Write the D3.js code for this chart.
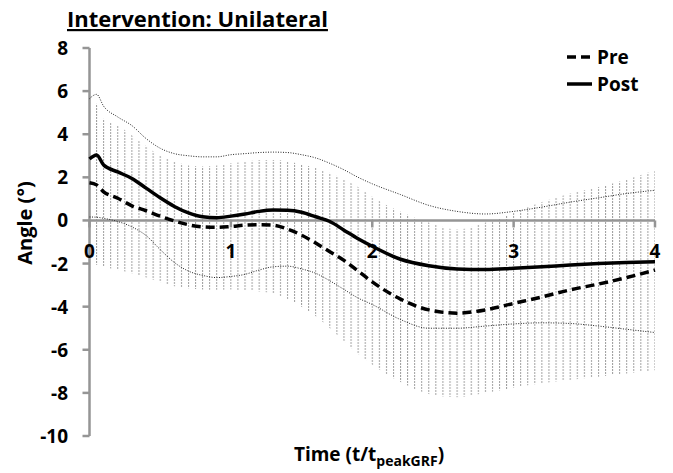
<!DOCTYPE html>
<html lang="en">
<head>
    <meta charset="UTF-8">
    <title>Intervention: Unilateral</title>
    <script src="https://cdn.jsdelivr.net/npm/d3@7"></script>
    <style>
        body {
            margin: 0;
            background-color: white;
        }
        svg text {
            font-family: "Open Sans", sans-serif;
            font-weight: bold;
            fill: black;
        }
        .axis-line {
            stroke: #959595;
            stroke-width: 2.5;
        }
    </style>
</head>
<body>
    <svg id="chart" width="673" height="473"></svg>

    <script>
        // time points (t / t_peakGRF)
        let time = [0, 0.05, 0.1, 0.2, 0.3, 0.4, 0.5, 0.6, 0.7, 0.8, 0.9, 1.0, 1.1, 1.2, 1.3, 1.4, 1.5, 1.6,
            1.7, 1.8, 1.9, 2.0, 2.2, 2.4, 2.6, 2.8, 3.0, 3.2, 3.4, 3.6, 3.8, 4.0]

        // Pre mean and +/- SD (hatched band)
        let pre = [1.75, 1.65, 1.33, 1.03, 0.68, 0.45, 0.2, -0.02, -0.2, -0.3, -0.32, -0.28, -0.22, -0.2, -0.22, -0.4,
            -0.68, -1.05, -1.45, -1.85, -2.35, -2.85, -3.65, -4.15, -4.3, -4.15, -3.85, -3.55, -3.22, -2.95, -2.65, -2.3]
        let preUpper = [5.6, 5.4, 4.7, 4.4, 3.95, 3.45, 3.0, 2.75, 2.55, 2.5, 2.55, 2.65, 2.72, 2.8, 2.8, 2.75,
            2.6, 2.45, 2.2, 1.9, 1.55, 1.1, 0.4, -0.1, -0.42, -0.1, 0.35, 0.85, 1.25, 1.55, 1.9, 2.33]
        let preLower = [-2.0, -2.05, -2.15, -2.3, -2.45, -2.65, -2.85, -3.05, -3.15, -3.2, -3.22, -3.2, -3.25, -3.3,
            -3.4, -3.65, -4.0, -4.45, -5.0, -5.6, -6.2, -6.7, -7.5, -8.05, -8.2, -8.0, -7.75, -7.55, -7.4, -7.25, -7.1, -6.95]

        // Post mean and +/- SD (dotted lines)
        let post = [2.85, 3.04, 2.57, 2.25, 1.95, 1.5, 1.05, 0.65, 0.35, 0.17, 0.13, 0.2, 0.3, 0.42, 0.48, 0.47,
            0.38, 0.17, -0.05, -0.45, -0.85, -1.2, -1.8, -2.1, -2.25, -2.28, -2.22, -2.15, -2.07, -2.0, -1.95, -1.92]
        let postUpper = [5.65, 5.85, 5.3, 4.8, 4.4, 3.8, 3.35, 3.1, 3.0, 2.95, 2.95, 3.05, 3.1, 3.15, 3.17, 3.15,
            3.05, 2.9, 2.65, 2.35, 2.0, 1.7, 1.2, 0.7, 0.42, 0.3, 0.42, 0.62, 0.85, 1.05, 1.25, 1.4]
        let postLower = [0.16, 0.15, 0.1, -0.05, -0.3, -0.7, -1.35, -1.95, -2.35, -2.55, -2.65, -2.6, -2.5, -2.3,
            -2.15, -2.12, -2.25, -2.45, -2.8, -3.2, -3.6, -3.9, -4.6, -5.0, -5.0, -4.9, -4.8, -4.75, -4.78, -4.9, -5.05, -5.2]

        let xTicks = [0, 1, 2, 3, 4]
        let yTicks = [8, 6, 4, 2, 0, -2, -4, -6, -8, -10]

        let svg = d3.select("#chart")

        let x = d3.scaleLinear().domain([0, 4]).range([89.5, 655])
        let y = d3.scaleLinear().domain([-10, 8]).range([436, 48])

        // hatch pattern: thin dashed vertical lines
        let step = x(0.05) - x(0)
        let pattern = svg.append("defs")
            .append("pattern")
            .attr("id", "hatch")
            .attr("patternUnits", "userSpaceOnUse")
            .attr("x", x(0) - 0.5)
            .attr("y", 0)
            .attr("width", step)
            .attr("height", 3)
        pattern.append("rect")
            .attr("x", 0)
            .attr("y", 0)
            .attr("width", 1)
            .attr("height", 2)
            .attr("fill", "#a0a0a0")

        let idx = d3.range(time.length)

        let band = d3.area()
            .x(i => x(time[i]))
            .y0(i => y(preLower[i]))
            .y1(i => y(preUpper[i]))
            .curve(d3.curveMonotoneX)

        svg.append("path")
            .datum(idx)
            .attr("d", band)
            .attr("fill", "url(#hatch)")

        // axes
        let yAxis = svg.append("g")
        yAxis.append("line")
            .attr("class", "axis-line")
            .attr("x1", x(0)).attr("x2", x(0))
            .attr("y1", y(8)).attr("y2", y(-10))
        yAxis.selectAll(".ytick")
            .data(yTicks)
            .enter()
            .append("line")
            .attr("class", "axis-line")
            .attr("x1", x(0) - 7).attr("x2", x(0))
            .attr("y1", d => y(d)).attr("y2", d => y(d))
        yAxis.selectAll(".ylab")
            .data(yTicks)
            .enter()
            .append("text")
            .attr("x", 68)
            .attr("y", d => y(d) + 7)
            .attr("text-anchor", "end")
            .attr("font-size", "19px")
            .text(d => d)

        let xAxis = svg.append("g")
        xAxis.append("line")
            .attr("class", "axis-line")
            .attr("x1", x(0)).attr("x2", x(4))
            .attr("y1", y(0)).attr("y2", y(0))
        xAxis.selectAll(".xtick")
            .data(xTicks)
            .enter()
            .append("line")
            .attr("class", "axis-line")
            .attr("x1", d => x(d)).attr("x2", d => x(d))
            .attr("y1", y(0)).attr("y2", y(0) + 7)
        xAxis.selectAll(".xlab")
            .data(xTicks)
            .enter()
            .append("text")
            .attr("x", d => x(d))
            .attr("y", y(0) + 38)
            .attr("text-anchor", "middle")
            .attr("font-size", "19px")
            .text(d => d)

        // Post SD dotted lines
        function makeLine(arr) {
            return d3.line()
                .x(i => x(time[i]))
                .y(i => y(arr[i]))
                .curve(d3.curveMonotoneX)
        }

        svg.append("path")
            .datum(idx)
            .attr("d", makeLine(postUpper))
            .attr("fill", "none")
            .attr("stroke", "#222")
            .attr("stroke-width", 1)
            .attr("stroke-dasharray", "1,1.5")
        svg.append("path")
            .datum(idx)
            .attr("d", makeLine(postLower))
            .attr("fill", "none")
            .attr("stroke", "#222")
            .attr("stroke-width", 1)
            .attr("stroke-dasharray", "1,1.5")

        // means
        svg.append("path")
            .datum(idx)
            .attr("d", makeLine(pre))
            .attr("fill", "none")
            .attr("stroke", "black")
            .attr("stroke-width", 3.5)
            .attr("stroke-dasharray", "9,5")
        svg.append("path")
            .datum(idx)
            .attr("d", makeLine(post))
            .attr("fill", "none")
            .attr("stroke", "black")
            .attr("stroke-width", 3.5)

        // legend
        let legend = svg.append("g")
        legend.append("line")
            .attr("x1", 567).attr("x2", 592)
            .attr("y1", 57).attr("y2", 57)
            .attr("stroke", "black").attr("stroke-width", 3.5)
            .attr("stroke-dasharray", "9,5")
        legend.append("text")
            .attr("x", 597).attr("y", 64)
            .attr("font-size", "19px")
            .text("Pre")
        legend.append("line")
            .attr("x1", 567).attr("x2", 592)
            .attr("y1", 84).attr("y2", 84)
            .attr("stroke", "black").attr("stroke-width", 3.5)
        legend.append("text")
            .attr("x", 597).attr("y", 91)
            .attr("font-size", "19px")
            .text("Post")

        // title
        svg.append("text")
            .attr("x", 67)
            .attr("y", 27)
            .attr("font-size", "22px")
            .attr("text-decoration", "underline")
            .text("Intervention: Unilateral")

        // axis titles
        svg.append("text")
            .attr("transform", "translate(32,223) rotate(-90)")
            .attr("text-anchor", "middle")
            .attr("font-size", "20px")
            .text("Angle (°)")

        let xt = svg.append("text")
            .attr("x", 369)
            .attr("y", 461)
            .attr("text-anchor", "middle")
            .attr("font-size", "19px")
        xt.append("tspan").text("Time (t/t")
        xt.append("tspan").attr("font-size", "14px").attr("dy", 5).text("peakGRF")
        xt.append("tspan").attr("dy", -5).text(")")
    </script>
</body>
</html>
